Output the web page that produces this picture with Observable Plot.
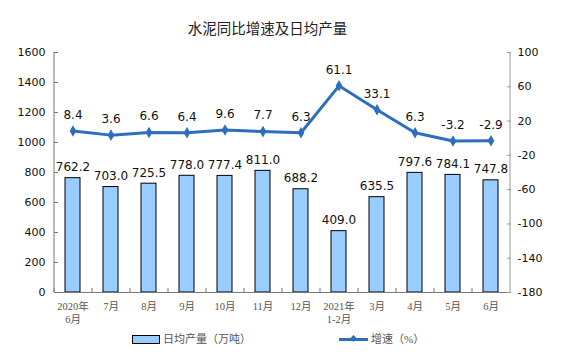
<!DOCTYPE html>
<html><head><meta charset="utf-8">
<script src="https://cdn.jsdelivr.net/npm/d3@7"></script>
<script src="https://cdn.jsdelivr.net/npm/@observablehq/plot@0.6"></script>
<style>
body{margin:0;background:#fff;width:576px;height:356px;overflow:hidden;position:relative;font-family:"DejaVu Sans",sans-serif}
#title{height:40px;box-sizing:border-box;padding-top:18px;width:535px;text-align:center;font:14.5px/20px "Noto Sans CJK SC",sans-serif;color:#222}
#chart svg{display:block}
.lg{position:absolute;font:11px/14px "Liberation Serif","Noto Sans CJK SC",serif;color:#555}
.box{position:absolute;left:132px;top:335px;width:26px;height:7px;background:#99ccff;border:1px solid #000}
.ln{position:absolute;left:339px;top:338px;width:29px;height:3px;background:#2e6fbd}
.dm{position:absolute;left:351px;top:336px;width:5px;height:5px;background:#2e6fbd;transform:rotate(45deg)}
</style></head>
<body>
<div id="title">水泥同比增速及日均产量</div>
<div id="chart"></div>
<div class="box"></div><div class="lg" style="left:163px;top:332px">日均产量（万吨）</div>
<div class="ln"></div><div class="dm"></div><div class="lg" style="left:371px;top:332px">增速（%）</div>
<script>
const categories = ["2020年\n6月","7月","8月","9月","10月","11月","12月","2021年\n1-2月","3月","4月","5月","6月"];
const output = [762.2,703.0,725.5,778.0,777.4,811.0,688.2,409.0,635.5,797.6,784.1,747.8];
const growth = [8.4,3.6,6.6,6.4,9.6,7.7,6.3,61.1,33.1,6.3,-3.2,-2.9];
const leftTicks = [0,200,400,600,800,1000,1200,1400,1600];
const rightTicks = [100,60,20,-20,-60,-100,-140,-180];
const rMin = -180, rMax = 100, lMax = 1600;
const toLeft = v => (v - rMin) / (rMax - rMin) * lMax;
const fromLeft = d => String(Math.round(d / lMax * (rMax - rMin) + rMin));
const rows = categories.map((c,i)=>({cat:c, output:output[i], growth:growth[i]}));
const blue = "#2e6fbd";
const axisColor = "#777";
const half = 19;
const chart = Plot.plot({
  width:576, height:288,
  marginTop:12, marginBottom:36, marginLeft:54, marginRight:66,
  style:{fontFamily:"DejaVu Sans, sans-serif", background:"#fff"},
  x:{domain:categories, paddingInner:0.6, paddingOuter:0.3, axis:null},
  y:{domain:[0,lMax], axis:null},
  marks:[
    Plot.barY(rows,{x:"cat", y:"output", fill:"#99ccff", stroke:"#000", strokeWidth:1}),
    Plot.text(rows,{x:"cat", y:"output", text:d=>d.output.toFixed(1), dy:-11, fontSize:12, fill:"#111"}),
    Plot.line(rows,{x:"cat", y:d=>toLeft(d.growth), stroke:blue, strokeWidth:3}),
    Plot.dot(rows,{x:"cat", y:d=>toLeft(d.growth), symbol:"diamond", r:3.5, fill:blue}),
    Plot.text(rows,{x:"cat", y:d=>toLeft(d.growth), text:d=>d.growth.toFixed(1), dy:-16, fontSize:12, fill:"#111"}),
    Plot.ruleY([0],{stroke:axisColor}),
    Plot.ruleX([categories[0]],{dx:-half, stroke:axisColor}),
    Plot.ruleX([categories[categories.length-1]],{dx:half, stroke:"#999"}),
    Plot.ruleX(categories,{x:d=>d, y1:0, y2:26.7, dx:-half, stroke:axisColor}),
    Plot.axisY(leftTicks,{anchor:"left", tickSize:4, dx:4, fill:"none", stroke:axisColor, label:null}),
    Plot.axisY(leftTicks,{anchor:"left", tickSize:0, tickPadding:9, fontSize:11, fill:"#111", tickFormat:d=>String(d), label:null}),
    Plot.axisY(rightTicks.map(toLeft),{anchor:"right", tickSize:4, dx:-4, fill:"none", stroke:"#999", label:null}),
    Plot.axisY(rightTicks.map(toLeft),{anchor:"right", tickSize:0, tickPadding:7, fontSize:11, fill:"#111", tickFormat:fromLeft, label:null}),
    Plot.axisX({anchor:"bottom", tickSize:0, tickPadding:8, fontSize:10.5, lineHeight:1.25, fill:"#555", fontFamily:"Liberation Serif, Noto Sans CJK SC, serif", label:null})
  ]
});
document.getElementById("chart").appendChild(chart);
</script>
</body></html>
